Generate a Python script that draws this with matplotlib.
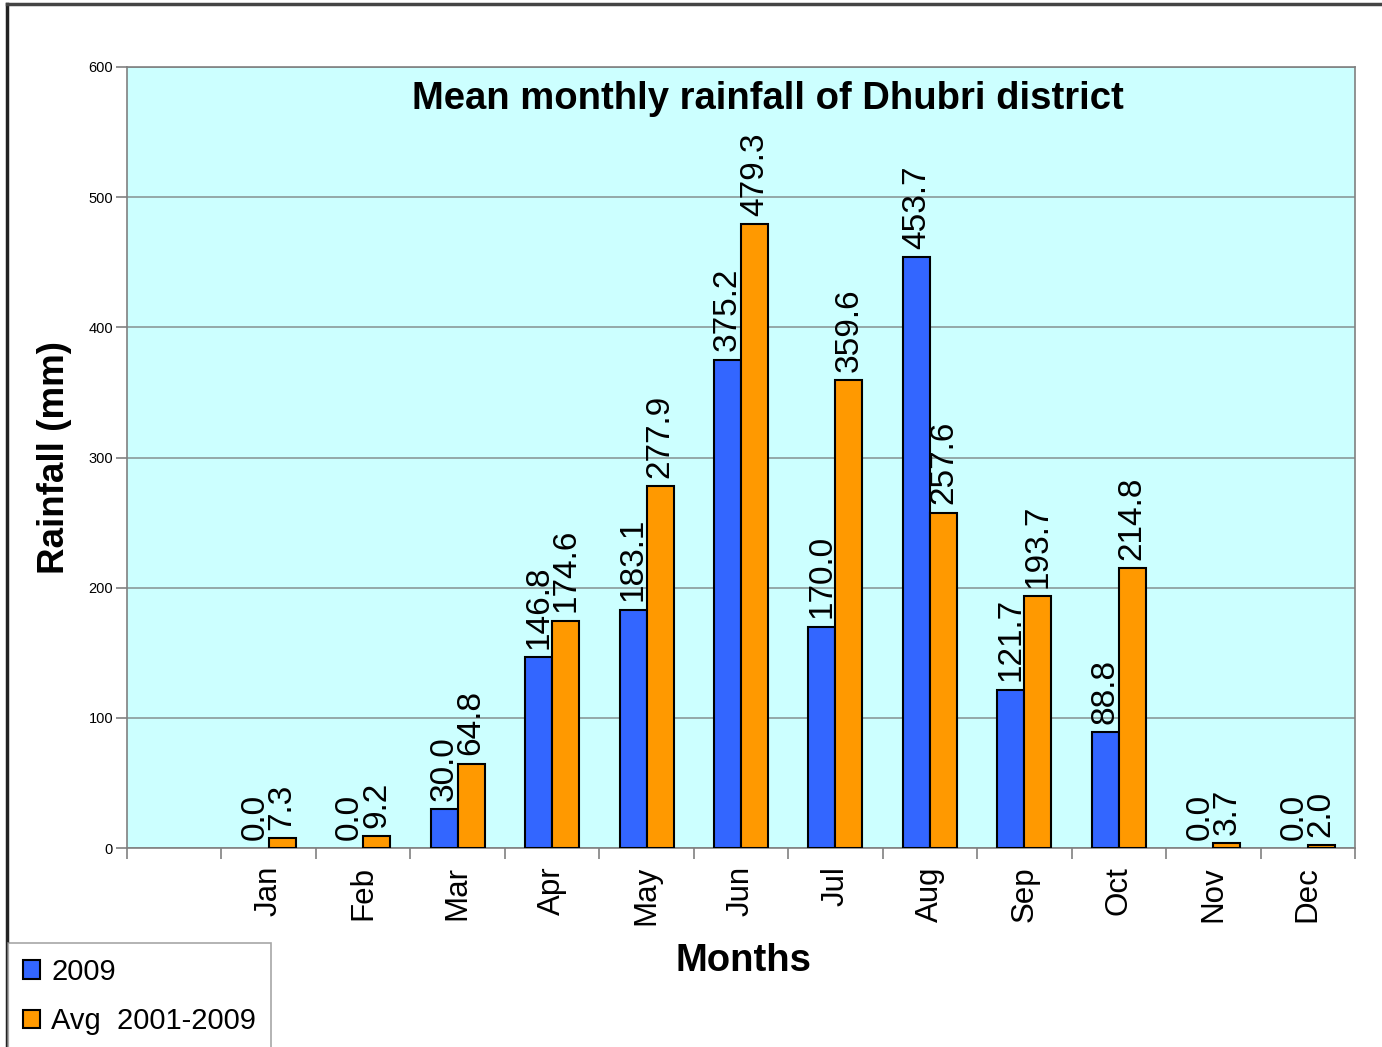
import numpy as np
import matplotlib.pyplot as plt
from matplotlib.patches import Patch
from matplotlib.lines import Line2D

## data
months = ['', 'Jan', 'Feb', 'Mar', 'Apr', 'May', 'Jun', 'Jul', 'Aug', 'Sep', 'Oct', 'Nov', 'Dec']
rain_2009 = [None, 0.0, 0.0, 30.0, 146.8, 183.1, 375.2, 170.0, 453.7, 121.7, 88.8, 0.0, 0.0]
rain_avg = [None, 7.3, 9.2, 64.8, 174.6, 277.9, 479.3, 359.6, 257.6, 193.7, 214.8, 3.7, 2.0]
series_names = ['2009', 'Avg  2001-2009']
yticks = [0, 100, 200, 300, 400, 500, 600]

## style
blue = '#3366FF'
orange = '#FF9900'
bg = '#CCFFFF'
W = 1382
H = 1047
plt.rcParams['font.family'] = ['Liberation Sans', 'DejaVu Sans']

fig = plt.figure(figsize=(W/100, H/100), dpi=100)
ax = fig.add_axes([127/W, 1 - 848/H, (1355 - 127)/W, (848 - 67)/H])
ax.set_facecolor(bg)

x = np.arange(len(months))
bw = 0.286
b = np.array([v if v is not None else 0 for v in rain_2009])
a = np.array([v if v is not None else 0 for v in rain_avg])
has = np.array([v is not None for v in rain_2009])

# zero-height bars are not drawn in the original, only their labels
ax.bar(x[b > 0] - bw/2, b[b > 0], bw, color=blue, edgecolor='black', linewidth=1.5, zorder=3)
ax.bar(x[a > 0] + bw/2, a[a > 0], bw, color=orange, edgecolor='black', linewidth=1.5, zorder=3)

# value labels, rotated, sitting on top of each bar
for i in x[has]:
    ax.annotate(f'{b[i]:.1f}', (i - bw/2, b[i]), xytext=(0, 6), textcoords='offset points',
                rotation=90, ha='center', va='bottom', fontsize=24, zorder=4)
    ax.annotate(f'{a[i]:.1f}', (i + bw/2, a[i]), xytext=(0, 6), textcoords='offset points',
                rotation=90, ha='center', va='bottom', fontsize=24, zorder=4)

ax.set_xlim(-0.5, len(months) - 0.5)
ax.set_ylim(0, 600)
ax.set_yticks(yticks)
ax.set_yticklabels([str(t) for t in yticks], fontsize=10.5)
ax.yaxis.grid(True, color='#8A9A9A', linewidth=1.2, zorder=0)
ax.set_axisbelow(True)

# month names centred, tick marks at category boundaries
ax.set_xticks(x[1:])
ax.set_xticklabels(months[1:], rotation=90, fontsize=22.5)
ax.tick_params(axis='x', length=0, pad=13)
ax.set_xticks(np.arange(-0.5, len(months)), minor=True)
ax.tick_params(axis='x', which='minor', length=8, color='#808080', width=1.2)
ax.tick_params(axis='y', length=8, color='#808080', width=1.2, pad=2)

for s in ax.spines.values():
    s.set_color('#808080')
    s.set_linewidth(1.2)

ax.text(0.522, 0.959, 'Mean monthly rainfall of Dhubri district', transform=ax.transAxes,
        ha='center', va='center', fontsize=27.5, fontweight='bold')

fig.text(55/W, 1 - 458/H, 'Rainfall (mm)', rotation=90, ha='center', va='center',
         fontsize=26.5, fontweight='bold')
fig.text(743/W, 1 - 961/H, 'Months', ha='center', va='center', fontsize=27.5, fontweight='bold')

# legend in the bottom-left corner
handles = [Patch(facecolor=blue, edgecolor='black', linewidth=1.5),
           Patch(facecolor=orange, edgecolor='black', linewidth=1.5)]
leg = fig.legend(handles, series_names, loc='upper left', bbox_to_anchor=(8/W, 1 - 943/H),
                 fontsize=21, frameon=True, fancybox=False, borderpad=0.5,
                 handlelength=0.6, handleheight=0.6, handletextpad=0.38, labelspacing=0.75,
                 borderaxespad=0)
leg.get_frame().set_edgecolor('#909090')
leg.get_frame().set_linewidth(1.2)

# page frame (left and top)
fig.add_artist(Line2D([7/W, 7/W], [0, 1 - 4/H], color='#222222', linewidth=2.5))
fig.add_artist(Line2D([7/W, 1], [1 - 4/H, 1 - 4/H], color='#444444', linewidth=2.5))

plt.savefig('out.png', dpi=100)
